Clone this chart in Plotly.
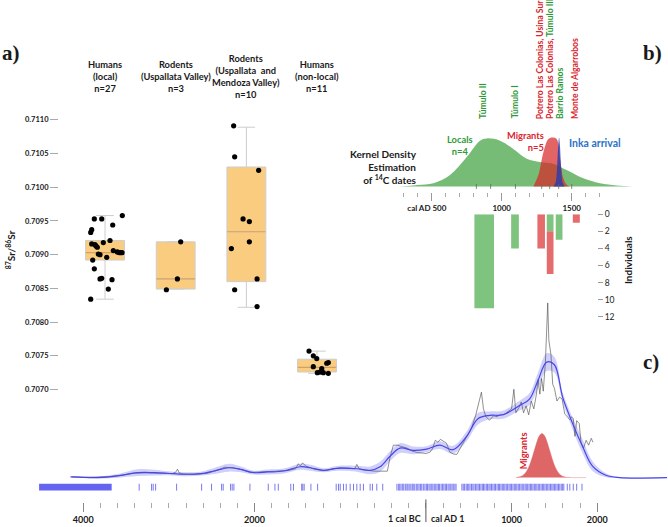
import plotly.graph_objects as go

W, H = 668, 527
FONT = "Lato"

# ---------------- Panel a: 87Sr/86Sr box plots ----------------
group_labels = ["Humans<br>(local)<br>n=27",
                "Rodents<br>(Uspallata Valley)<br>n=3",
                "Rodents<br>(Uspallata  and<br>Mendoza Valley)<br>n=10",
                "Humans<br>(non-local)<br>n=11"]
humans_local = [0.70953, 0.70953, 0.70958, 0.70944, 0.70933, 0.70937, 0.70921, 0.70918, 0.70916,
                0.70915, 0.70911, 0.70913, 0.70906, 0.70904, 0.70903, 0.70903, 0.70903, 0.70901,
                0.70900, 0.70896, 0.70892, 0.70879, 0.70864, 0.70865, 0.70863, 0.70849, 0.70834]
humans_local_jitter = [-10.7, -3.3, 17.3, 7.7, -14.3, -13.3, 5, -1.7, -13.3, -10, -7.7, -9, 8.3,
                       12.3, 14.3, 17, 15.7, -6.7, -5, 1.7, -12.3, -10.7, -5, -3.3, 7, 3.3, -14.3]
rodents_usp = [0.70919, 0.70864, 0.70848]
rodents_usp_jitter = [5, 1.7, -9.3]
rodents_usp_men = [0.71091, 0.71045, 0.71025, 0.70953, 0.70949, 0.70919, 0.70909, 0.70864, 0.70848, 0.70823]
rodents_usp_men_jitter = [-12.7, -11.7, 12.3, -3.3, 3, 3, -15, 10.7, -11.7, 10.7]
humans_nonlocal = [0.70757, 0.70750, 0.70746, 0.70734, 0.70740, 0.70739, 0.70731, 0.70726, 0.70725, 0.70725, 0.70724]
humans_nonlocal_jitter = [-8, -3.7, -0.3, -3.7, 11.3, 9.7, 4.7, 3, 0.3, 6.3, 11.3]

box_q1 = [0.70892, 0.70849, 0.70860, 0.70726]
box_median = [0.70903, 0.70864, 0.70934, 0.70733]
box_q3 = [0.70921, 0.70919, 0.71030, 0.70745]
box_low = [0.70834, 0.70849, 0.70822, 0.70724]
box_high = [0.70958, 0.70919, 0.71089, 0.70757]

sr_ticks = [0.7070, 0.7075, 0.7080, 0.7085, 0.7090, 0.7095, 0.7100, 0.7105, 0.7110]

# ---------------- Panel b: KDE of 14C dates + individuals ----------------
locals_year = [200, 300, 400, 512, 631, 750, 845, 893, 988, 1083, 1179, 1274, 1369, 1464, 1583, 1702, 1821, 1940]
locals_kde = [0, 0.3, 1.5, 3.3, 11.7, 30, 46.7, 49, 46.7, 38.3, 28.3, 25, 23.3, 16.7, 8.3, 3.3, 1, 0]
migrants_year = [1226, 1262, 1298, 1333, 1360, 1393, 1417, 1440, 1464, 1488]
migrants_kde = [0, 11.7, 35, 48.3, 50, 48.3, 28.3, 8.3, 1.7, 0]
inka_year = [1370, 1385, 1395, 1405, 1410, 1415, 1425, 1435, 1450]
inka_kde = [0, 4, 18, 44, 50, 44, 18, 4, 0]
kde_marks = [819, 921, 1098, 1286, 1343, 1407, 1500]

site_names = ["Túmulo II", "Túmulo I", "Potrero Las Colonias, Usina Sur",
              "Potrero Las Colonias, <span style='color:#2e9a36'>Túmulo III</span>",
              "Barrio Ramos", "Monte de Algarrobos"]
site_label_year = [866, 1095, 1273, 1346, 1418, 1528]
site_color = ["#2e9a36", "#2e9a36", "#d9252f", "#d9252f", "#2e9a36", "#d9252f"]

local_bar_year = [875, 1095, 1346, 1410]
local_bar_width = [140, 55, 48, 48]
local_bar_count = [11, 4, 2, 3]
migrant_bar_year = [1282, 1346, 1533]
migrant_bar_width = [54, 48, 50]
migrant_bar_count = [4, 5, 1]

kde_b_ticks_major = [500, 1000, 1500]
kde_b_tick_labels = ["cal AD 500" + "&nbsp;" * 5, "1000", "1500"]
kde_b_ticks_minor = list(range(300, 1800, 100))
indiv_ticks = [0, 2, 4, 6, 8, 10, 12]

# ---------------- Panel c: summed probability / KDE through time ----------------
blue_year = [-4148, -3829, -3597, -3364, -3171, -3015, -2822, -2628, -2473, -2299, -2163, -2008,
             -1852, -1659, -1465, -1349, -1194, -1038, -806, -651, -535, -419, -302, -148, 8, 163,
             317, 473, 608, 744, 899, 1093, 1209, 1306, 1410, 1500, 1597, 1713, 1829, 1945, 2101,
             2256, 2814]
blue_val = [0.7, 0, 1.7, 5, 5, 4.4, 3.4, 4, 6.7, 10, 8.4, 5, 5.7, 6.7, 11, 10, 7.4, 9.4, 9, 7.4,
            11, 21.7, 30, 27.7, 29, 33, 28.4, 41.7, 60, 63.4, 64, 73.4, 80, 98.4, 117.7, 115, 81.7,
            55, 31.7, 11.7, 2.4, 0, 0]
blue_band = [0.5, 1, 2, 3.5, 3, 2, 2, 2, 3, 4, 3, 2, 2.5, 2.5, 3, 3, 2, 2.5, 3, 4, 5, 5, 5, 4, 3,
             4, 4, 5, 6, 4, 4, 5, 6, 8, 9, 8, 5, 6, 7, 5, 2, 0.5, 0.5]

black_year = [-4130, -4000, -3850, -3700, -3550, -3400, -3250, -3100, -2960, -2920, -2900, -2880,
              -2850, -2700, -2560, -2450, -2350, -2250, -2150, -2050, -1900, -1750, -1600, -1520,
              -1490, -1465, -1440, -1400, -1300, -1200, -1100, -1000, -900, -830, -806, -780, -700,
              -600, -450, -420, -380, -330, -280, -220, -160, -100, -40, 0, 50, 80, 110, 140, 170,
              200, 240, 280, 320, 360, 400, 440, 490, 530, 580, 615, 648, 672, 700, 744, 790, 830,
              870, 910, 960, 1000, 1027, 1050, 1090, 1113, 1140, 1170, 1200, 1230, 1260, 1290, 1310,
              1330, 1350, 1370, 1395, 1410, 1422, 1435, 1460, 1480, 1500, 1530, 1560, 1590, 1620,
              1650, 1680, 1700, 1720, 1740, 1760, 1790, 1810, 1840, 1870, 1900, 1930, 1950]
black_val = [0.8, 0.3, 0.5, 1.0, 2.5, 4.5, 4.8, 4.2, 4.0, 5.5, 8.5, 5.0, 3.8, 3.2, 4.2, 7.0, 10.5,
             10.0, 8.0, 5.2, 5.5, 6.5, 7.5, 9.0, 14.0, 12.0, 15.0, 11.5, 8.5, 7.0, 8.5, 10.0, 9.5,
             9.0, 13.4, 9.0, 7.5, 6.5, 6.5, 20, 33, 33, 31.5, 30, 27, 25.5, 25, 24.5, 26, 30, 38,
             36, 39, 37, 35, 26, 24, 23.5, 30, 35, 44, 50, 63, 75, 87, 70, 62, 58.5, 63, 62, 64.5,
             64, 67, 70, 90, 66, 72, 77, 66, 73, 64, 78, 70, 85, 100, 85, 101, 88, 118, 150, 178,
             140, 125, 95, 91, 78, 82, 80, 65, 62, 59, 62, 60, 42, 58, 55, 36, 30, 38, 33, 40, 36]

migrants_c_year = [1050, 1055, 1105, 1145, 1175, 1205, 1235, 1265, 1295, 1325, 1355, 1385, 1415,
                   1445, 1475, 1505, 1535, 1565, 1605, 1655, 1870]
migrants_c_val = [0, 0.2, 1.0, 3.1, 6.4, 11.6, 18.9, 27.6, 36.2, 42.6, 45, 42.6, 36.2, 27.6, 18.9,
                  11.6, 6.4, 3.1, 1.0, 0.2, 0]

rug_block = [-4515, -3668]
rug_dates = [-3347, -3202, -3183, -3155, -2910, -2618, -2502, -2385, -2366, -2280, -2261, -2241,
             -2054, -1840, -1762, -1723, -1577, -1546, -1450, -1437, -1421, -1342, -1264, -1047,
             -1020, -1000, -962, -930, -884, -845, -806, -767, -729, -651, -624, -573, -504,
             -338, -318, -305, -290, -271, -258, -240, -222, -210, -195, -176, -160, -148, -130,
             -112, -95, -80, -62, -48, -30, -12, 5, 18, 36, 50, 68, 82, 98, 115, 130, 146, 160,
             178, 195, 210, 226, 240, 258, 272, 290, 305, 320, 338, 352,
             420, 436, 452, 470, 484, 500, 515, 532, 548, 562, 580, 595, 610, 626, 642, 658, 672,
             688, 705, 720, 736, 750, 766, 782, 798, 812, 830, 846, 860, 876, 892, 908, 922, 938,
             954, 970, 985, 1000, 1016, 1032, 1048, 1062, 1078, 1094, 1110, 1125, 1142, 1158,
             1172, 1188, 1204, 1220, 1235, 1250, 1266, 1282, 1296, 1312, 1328, 1344, 1360, 1375,
             1390, 1406, 1422, 1438, 1454, 1470, 1485, 1500, 1516, 1532, 1548, 1563, 1580, 1596,
             1610, 1650, 1680, 1720, 1760, 1822]

c_ticks_major = [-4000, -2000, 1000, 2000]
c_ticks_text = ["4000", "2000", "1000", "2000"]
c_ticks_minor = list(range(-4000, 2001, 200))

# ---------------- helpers (layout geometry) ----------------
def px(x):
    return x / W

def py(y):
    return 1 - y / H

GROUP_PX = 70.67          # pixel spacing between box groups
B_PX_PER_YEAR, B_X1000 = 0.14, 501.7
C_PX_PER_YEAR, C_X0 = 0.08567, 425.9

def yr_b(p):
    return 1000 + (p - B_X1000) / B_PX_PER_YEAR

def yr_c(p):
    return (p - C_X0) / C_PX_PER_YEAR

fig = go.Figure()

# ---- panel a traces ----
fig.add_trace(go.Box(x=list(range(4)), q1=box_q1, median=box_median, q3=box_q3,
                     lowerfence=box_low, upperfence=box_high,
                     fillcolor="rgb(250,204,128)", line=dict(color="rgb(205,205,205)", width=1),
                     width=0.55, whiskerwidth=0.45, boxpoints=False,
                     xaxis="x", yaxis="y", hoverinfo="skip"))
mx, my = [], []
for i, m in enumerate(box_median):
    mx += [i - 0.272, i + 0.272, None]
    my += [m, m, None]
fig.add_trace(go.Scatter(x=mx, y=my, mode="lines", line=dict(color="rgb(214,160,95)", width=1.2),
                         xaxis="x", yaxis="y", hoverinfo="skip"))
for i, (vals, jit) in enumerate([(humans_local, humans_local_jitter),
                                 (rodents_usp, rodents_usp_jitter),
                                 (rodents_usp_men, rodents_usp_men_jitter),
                                 (humans_nonlocal, humans_nonlocal_jitter)]):
    fig.add_trace(go.Scatter(x=[i + j / GROUP_PX for j in jit], y=vals, mode="markers",
                             marker=dict(color="black", size=5.2), cliponaxis=False,
                             xaxis="x", yaxis="y", hoverinfo="skip"))

# ---- panel b traces ----
fig.add_trace(go.Scatter(x=locals_year, y=locals_kde, mode="lines", line=dict(width=0, shape="spline"),
                         fill="tozeroy", fillcolor="rgba(60,160,60,0.70)", xaxis="x2", yaxis="y2",
                         hoverinfo="skip"))
fig.add_trace(go.Scatter(x=migrants_year, y=migrants_kde, mode="lines", line=dict(width=0, shape="spline"),
                         fill="tozeroy", fillcolor="rgba(215,40,40,0.72)", xaxis="x2", yaxis="y2",
                         hoverinfo="skip"))
fig.add_trace(go.Scatter(x=inka_year, y=inka_kde, mode="lines", line=dict(width=0, shape="spline"),
                         fill="tozeroy", fillcolor="rgba(35,60,175,0.80)", xaxis="x2", yaxis="y2",
                         hoverinfo="skip"))
kx, ky = [], []
for d in kde_marks:
    kx += [d, d, None]
    ky += [-2.5, 2.5, None]
fig.add_trace(go.Scatter(x=kx, y=ky, mode="lines", line=dict(color="#666", width=0.8),
                         xaxis="x2", yaxis="y2", hoverinfo="skip"))

local_count_at = dict(zip(local_bar_year, local_bar_count))
fig.add_trace(go.Bar(x=local_bar_year, y=local_bar_count, width=local_bar_width, base=0,
                     marker=dict(color="rgb(126,195,126)", line=dict(width=0)),
                     xaxis="x2", yaxis="y3", hoverinfo="skip"))
fig.add_trace(go.Bar(x=migrant_bar_year, y=migrant_bar_count, width=migrant_bar_width,
                     base=[local_count_at.get(yv, 0) for yv in migrant_bar_year],
                     marker=dict(color="rgb(229,108,108)", line=dict(width=0)),
                     xaxis="x2", yaxis="y3", hoverinfo="skip"))

# ---- panel c traces ----
fig.add_trace(go.Scatter(x=blue_year, y=[v + b for v, b in zip(blue_val, blue_band)], mode="lines",
                         line=dict(width=0, shape="spline"), xaxis="x3", yaxis="y4", hoverinfo="skip"))
fig.add_trace(go.Scatter(x=blue_year, y=[v - b for v, b in zip(blue_val, blue_band)], mode="lines",
                         line=dict(width=0, shape="spline"), fill="tonexty",
                         fillcolor="rgba(120,120,240,0.35)", xaxis="x3", yaxis="y4", hoverinfo="skip"))
fig.add_trace(go.Scatter(x=migrants_c_year, y=migrants_c_val, mode="lines",
                         line=dict(width=0.6, color="rgba(225,90,90,0.6)", shape="spline"),
                         fill="tozeroy", fillcolor="rgba(220,85,85,0.9)", xaxis="x3", yaxis="y4",
                         hoverinfo="skip"))
fig.add_trace(go.Scatter(x=black_year, y=black_val, mode="lines",
                         line=dict(width=0.6, color="rgb(70,70,70)"), xaxis="x3", yaxis="y4",
                         hoverinfo="skip"))
fig.add_trace(go.Scatter(x=blue_year, y=blue_val, mode="lines",
                         line=dict(width=1.2, color="rgb(70,70,235)", shape="spline"),
                         xaxis="x3", yaxis="y4", hoverinfo="skip"))
RUG_LO, RUG_HI = -13.3, -6.3
rx, ry = [], []
for d in rug_dates:
    rx += [d, d, None]
    ry += [RUG_LO, RUG_HI, None]
fig.add_trace(go.Scatter(x=rx, y=ry, mode="lines", line=dict(color="rgb(105,105,240)", width=0.9),
                         xaxis="x3", yaxis="y4", hoverinfo="skip"))
fig.add_trace(go.Scatter(x=[rug_block[0], rug_block[1], rug_block[1], rug_block[0], rug_block[0]],
                         y=[RUG_LO, RUG_LO, RUG_HI, RUG_HI, RUG_LO], mode="lines", fill="toself",
                         fillcolor="rgb(100,100,240)", line=dict(width=0), xaxis="x3", yaxis="y4",
                         hoverinfo="skip"))

# ---------------- annotations ----------------
ann = []
def text(x, y, t, size=8.5, color="#1a1a1a", xa="center", ya="middle", angle=0, family=FONT,
         weight=700, xref="paper", yref="paper", align="center", xshift=0):
    ann.append(dict(x=x, y=y, xref=xref, yref=yref, text=t, showarrow=False, xanchor=xa, yanchor=ya,
                    textangle=angle, align=align, xshift=xshift,
                    font=dict(family=family, size=size, color=color, weight=weight)))

text(px(0), py(49), "a)", size=21, family="Liberation Serif", xa="left")
text(px(641), py(49), "b)", size=21, family="Liberation Serif", xa="left")
text(px(641), py(364), "c)", size=21, family="Liberation Serif", xa="left")

for i, lab in enumerate(group_labels):
    text(px(105 + GROUP_PX * i), py(72.5), lab, size=9.3)
text(px(10), py(250), "<sup>87</sup>Sr/<sup>86</sup>Sr", size=10, angle=-90)

text(px(419), py(165.5), "Kernel Density<br>Estimation<br>of <sup>14</sup>C dates", size=10,
     xa="right", align="right")
text(px(460), py(143), "Locals<br>n=4", size=9.3, color="#2e9a36")
text(px(546), py(139), "Migrants<br>n=5", size=9.3, color="#d9252f", xa="right", align="right")
text(px(567), py(141), "Inka arrival", size=10.5, color="#2a72c8", xa="left")
for nm, yv, col in zip(site_names, site_label_year, site_color):
    text(yv, py(118), nm, size=8.6, color=col, angle=-90, ya="bottom", xref="x2")
text(px(628), py(260), "Individuals", size=10, angle=-90)

text(px(523), py(455), "Migrants", size=9.3, color="#d9252f", angle=-90)
text(0, py(523), "1 cal BC", size=9, xref="x3", xa="right", xshift=-3)
text(0, py(523), "cal AD 1", size=9, xref="x3", xa="left", xshift=3)

tick_font = dict(family=FONT, size=8, color="#1a1a1a", weight=700)

fig.update_layout(
    width=W, height=H, margin=dict(l=0, r=0, t=0, b=0),
    paper_bgcolor="white", plot_bgcolor="rgba(0,0,0,0)", showlegend=False,
    font=dict(family=FONT, color="#1a1a1a"), barmode="overlay", annotations=ann,
    shapes=[dict(type="line", xref="x3", yref="paper", x0=0, x1=0, y0=py(527), y1=py(504),
                 line=dict(color="#555", width=1))],
    xaxis=dict(domain=[px(60), px(340)], range=[-0.637, 3.325], visible=False, anchor="y"),
    yaxis=dict(domain=[py(392), py(117)], range=[0.7070, 0.7110], anchor="free", position=px(58),
               tickvals=sr_ticks, ticktext=[f"{v:.4f}" for v in sr_ticks], ticks="outside",
               ticklen=8, tickwidth=1, tickcolor="#aaa", showgrid=False, zeroline=False,
               showline=False, tickfont=dict(family=FONT, size=7.5, color="#1a1a1a", weight=700)),
    xaxis2=dict(domain=[px(380), px(640)], range=[yr_b(380), yr_b(640)], anchor="y2",
                tickvals=kde_b_ticks_major, ticktext=kde_b_tick_labels, ticks="outside",
                ticklen=8, tickwidth=1, tickcolor="#999", showgrid=False, zeroline=False,
                showline=False, tickfont=tick_font,
                minor=dict(tickvals=kde_b_ticks_minor, ticks="outside", ticklen=4, tickcolor="#aaa",
                           tickwidth=1, showgrid=False)),
    yaxis2=dict(domain=[py(191), py(125)], range=[-6, 60], visible=False, anchor="x2"),
    yaxis3=dict(domain=[py(317.7), py(213.3)], range=[12, 0], anchor="free", position=px(597),
                side="right", tickvals=indiv_ticks, ticks="outside", ticklen=5, tickwidth=1,
                tickcolor="#999", showgrid=False, zeroline=False, showline=False,
                tickfont=dict(family=FONT, size=8.5, color="#1a1a1a")),
    xaxis3=dict(domain=[0, 1], range=[yr_c(0), yr_c(W)], anchor="y4", tickvals=c_ticks_major,
                ticktext=c_ticks_text, ticks="outside", ticklen=9, tickwidth=1, tickcolor="#888",
                showgrid=False, zeroline=False, showline=False,
                tickfont=dict(family=FONT, size=9, color="#1a1a1a", weight=700),
                minor=dict(tickvals=c_ticks_minor, ticks="outside", ticklen=5, tickcolor="#aaa",
                           tickwidth=1, showgrid=False)),
    yaxis4=dict(domain=[py(507), py(290)], range=[-25.3, 191.7], visible=False, anchor="x3"),
)

fig.write_html("out.html", config={"displayModeBar": False, "staticPlot": True},
               post_script="document.body.style.margin='0px';document.body.style.overflow='hidden';")
